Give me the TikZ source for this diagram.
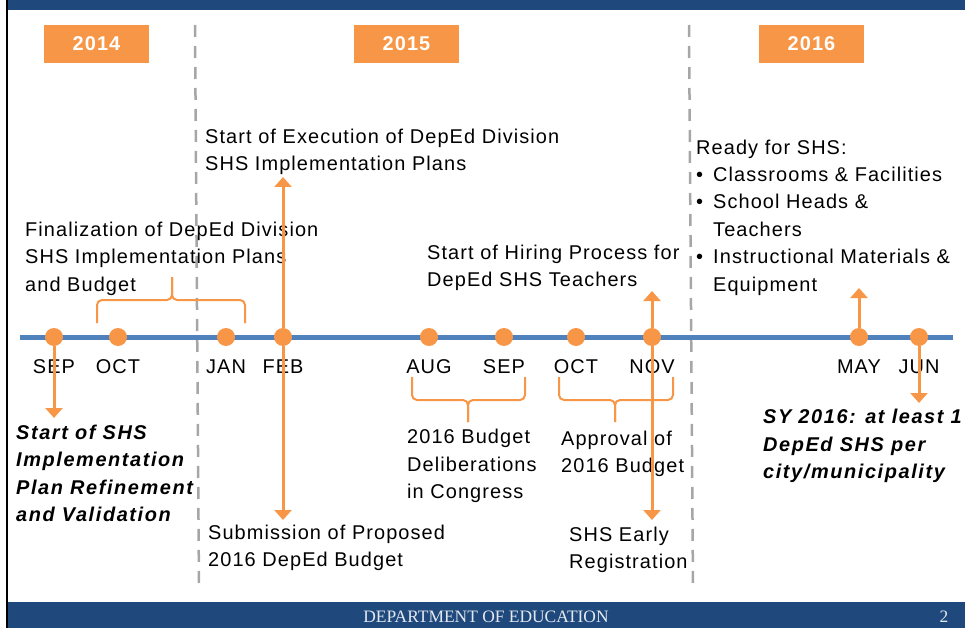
\documentclass[tikz,border=0pt]{standalone}
\usepackage{fontspec}
\setmainfont{Liberation Sans}[LetterSpace=5.5]
\newfontfamily\footfont{Liberation Serif}
\usetikzlibrary{arrows.meta}
\definecolor{deporange}{HTML}{F79646}
\definecolor{depblue}{HTML}{4F81BD}
\definecolor{depnavy}{HTML}{1F497D}
\definecolor{depgray}{HTML}{A6A6A6}
\newcommand\bull{\makebox[17bp][l]{\textbullet}}
\begin{document}
\begin{tikzpicture}[x=1bp,y=-1bp,
    dot/.style={circle,fill=deporange,inner sep=0pt,minimum size=18bp},
    month/.style={anchor=base,inner sep=0pt,font=\fontsize{20}{24}\selectfont},
    yearbox/.style={fill=deporange,text=white,inner sep=0pt,minimum width=105bp,minimum height=38bp,font=\fontsize{20}{24}\selectfont\bfseries},
    note/.style={anchor=base west,align=left,inner sep=0pt,font=\fontsize{20}{27.5}\selectfont},
    keynote/.style={note,font=\fontsize{20}{27.5}\selectfont\bfseries\itshape\addfontfeature{LetterSpace=8}},
    marker/.style={deporange,line width=3bp,-{Triangle[width=17bp,length=10bp]}},
    bracket/.style={deporange,line width=2bp,rounded corners=5bp},
    yearsep/.style={depgray,line width=2.5bp,dash pattern=on 12bp off 9bp},
    footer/.style={anchor=base,inner sep=0pt,text=white!88!depnavy,font=\footfont\fontsize{17.5}{20}\selectfont}]
  \useasboundingbox (0,0) rectangle (965,628);
  % frame
  \fill[depnavy] (7,0) rectangle (965,10);
  \fill[depnavy] (7,602) rectangle (965,628);
  \draw[black,line width=2bp] (6.5,0) -- (6.5,628);
  % years
  \node[yearbox] (y2014) at (96.5,44) {2014};
  \node[yearbox] (y2015) at (406.5,44) {2015};
  \node[yearbox] (y2016) at (811.5,44) {2016};
  \draw[yearsep] (195,25) -- (199,590);
  \draw[yearsep] (689,25) -- (693,590);
  % timeline
  \draw[depblue,line width=5bp] (20,337) -- (953,337);
  \foreach \x/\m/\n in {54/SEP/sep14,118/OCT/oct14,226/JAN/jan15,283/FEB/feb15,429/AUG/aug15,
                        504/SEP/sep15,576/OCT/oct15,652/NOV/nov15,859/MAY/may16,919/JUN/jun16}{
    \node[dot] (\n) at (\x,337) {};
    \node[month] (m\n) at (\x,373) {\m};
  }
  % braces
  \draw[bracket] (97,323) |- (172,300) -- (172,277);
  \draw[bracket] (245,323) |- (172,300) -- (172,277);
  \draw[bracket] (412,377) |- (468,400) -- (468,422);
  \draw[bracket] (525,377) |- (468,400) -- (468,422);
  \draw[bracket] (559,377) |- (615,400) -- (615,422);
  \draw[bracket] (673,377) |- (615,400) -- (615,422);
  % notes (placed at the baseline of their last line)
  \node[note] (execNote) at (205,170.5) {Start of Execution of DepEd Division\\SHS Implementation Plans};
  \node[note] (finalNote) at (25,291) {Finalization of DepEd Division\\SHS Implementation Plans\\and Budget};
  \node[note] (hireNote) at (427,286.5) {Start of Hiring Process for\\DepEd SHS Teachers};
  \node[note] (readyNote) at (696,291) {Ready for SHS:\\\bull Classrooms \& Facilities\\\bull School Heads \&\\\hspace*{17bp}Teachers\\\bull Instructional Materials \&\\\hspace*{17bp}Equipment};
  \node[keynote] (refineNote) at (16,521.5) {Start of SHS\\Implementation\\Plan Refinement\\and Validation};
  \node[keynote] (syNote) at (763,478.5) {SY 2016: at least 1\\DepEd SHS per\\city/municipality};
  \node[note] (congNote) at (407,498.5) {2016 Budget\\Deliberations\\in Congress};
  \node[note] (approvalNote) at (561,472.5) {Approval of\\2016 Budget};
  \node[note] (earlyNote) at (569,568.5) {SHS Early\\Registration};
  \node[note] (submitNote) at (208,566.5) {Submission of Proposed\\2016 DepEd Budget};
  % arrows
  \coordinate (sepTip) at (54,418);
  \coordinate (febTop) at (283,177);
  \coordinate (febBot) at (283,520);
  \coordinate (novTop) at (652,291);
  \coordinate (novBot) at (652,520);
  \coordinate (mayTip) at (859,288);
  \coordinate (junTip) at (919,403);
  \draw[marker] (sep14) -- (sepTip);
  \draw[marker] (feb15) -- (febTop);
  \draw[marker] (feb15) -- (febBot);
  \draw[marker] (nov15) -- (novTop);
  \draw[marker] (nov15) -- (novBot);
  \draw[marker] (may16) -- (mayTip);
  \draw[marker] (jun16) -- (junTip);
  % footer
  \node[footer] (deptName) at (486,622) {DEPARTMENT OF EDUCATION};
  \node[footer] (pageNo) at (944,622) {2};
\end{tikzpicture}
\end{document}
